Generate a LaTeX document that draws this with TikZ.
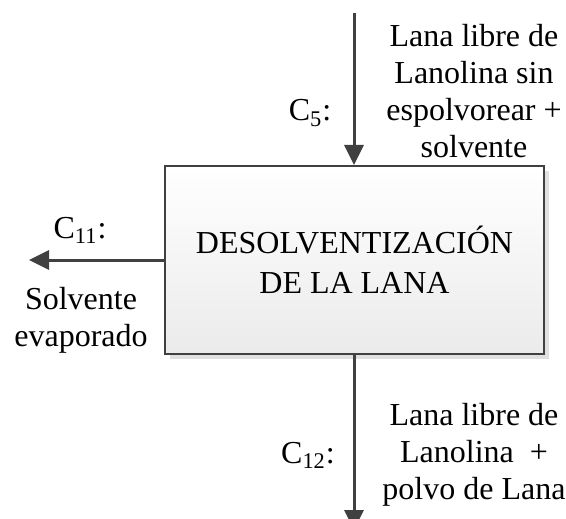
\documentclass[tikz,border=0pt]{standalone}
\usepackage{fontspec}
\setmainfont{Liberation Serif}
\newfontfamily\lanafont{Liberation Serif}
\usetikzlibrary{positioning}
\usetikzlibrary{arrows.meta}
\usetikzlibrary{shadows}
\tikzset{
    x=0.5pt, y=-0.5pt, % one unit is one pixel of the reference
    process/.style={ % Sets the properties of the process box
        draw=black!75,
        line width=1pt,
        top color=white,
        bottom color=black!8,
        minimum width=189.5pt,
        minimum height=94pt,
        align=center,
        font=\lanafont\fontsize{16}{20}\selectfont,
        drop shadow={shadow xshift=2.5pt, shadow yshift=-2.5pt, fill=black!12, opacity=1}
    },
    txt/.style={ % Sets the properties of the stream labels
        align=center,
        inner sep=0pt,
        font=\lanafont\fontsize{16}{18.5}\selectfont
    },
    flow/.style={ % Sets the properties of each stream
        draw=black!75,
        line width=1.5pt,
        -{Triangle[length=10pt,width=9.5pt]}
    }
}

\begin{document}
\begin{tikzpicture}
            \useasboundingbox (0,0) rectangle (566,518);
            \node[process] (proc) at (354.5,260) {DESOLVENTIZACIÓN\\DE LA LANA};

            \coordinate (in5) at (354,13);
            \coordinate (out11) at (29,260);
            \coordinate (out12) at (354,530);

            \node[txt] (t5) at (474,91) {Lana libre de\\Lanolina sin\\espolvorear +\\solvente};
            \node[txt] (c5) at (310,113) {C\textsubscript{5}:};
            \node[txt] (c11) at (80,230) {C\textsubscript{11}:};
            \node[txt] (t11) at (81,320) {Solvente\\evaporado};
            \node[txt] (t12) at (474,455) {Lana libre de\\Lanolina\ \ +\\polvo de Lana};
            \node[txt] (c12) at (308,455) {C\textsubscript{12}:};

            \draw[flow] (in5) -- (in5 |- proc.north);
            \draw[flow] (proc.west) -- (out11);
            \draw[flow] (in5 |- proc.south) -- (out12);
        \end{tikzpicture}
\end{document}
